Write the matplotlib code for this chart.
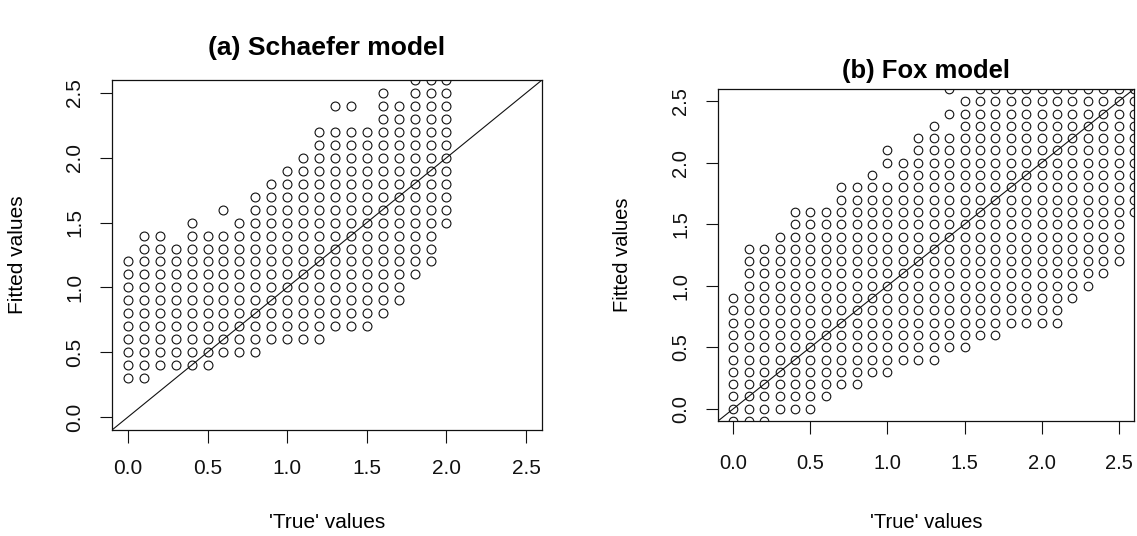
import numpy as np
import matplotlib
matplotlib.use("Agg")
import matplotlib.pyplot as plt

plt.rcParams['font.family'] = ['Liberation Sans', 'DejaVu Sans']

# (a) Schaefer model: each 'true' value has a column of fitted values (step 0.1)
true_a = [0.0, 0.1, 0.2, 0.3, 0.4, 0.5, 0.6, 0.7, 0.8, 0.9, 1.0,
          1.1, 1.2, 1.3, 1.4, 1.5, 1.6, 1.7, 1.8, 1.9, 2.0]
fit_low_a = [0.3, 0.3, 0.4, 0.4, 0.4, 0.4, 0.5, 0.5, 0.5, 0.6, 0.6,
             0.6, 0.6, 0.7, 0.7, 0.7, 0.8, 0.9, 1.1, 1.2, 1.5]
fit_high_a = [1.2, 1.4, 1.4, 1.3, 1.5, 1.4, 1.4, 1.5, 1.7, 1.8, 1.9,
              2.0, 2.2, 2.2, 2.2, 2.2, 2.5, 2.4, 2.6, 2.6, 2.6]
extra_x_a = [0.6, 1.3, 1.4]
extra_y_a = [1.6, 2.4, 2.4]

# (b) Fox model
true_b = [0.0, 0.1, 0.2, 0.3, 0.4, 0.5, 0.6, 0.7, 0.8, 0.9, 1.0, 1.1, 1.2, 1.3,
          1.4, 1.5, 1.6, 1.7, 1.8, 1.9, 2.0, 2.1, 2.2, 2.3, 2.4, 2.5, 2.6]
fit_low_b = [-0.1, -0.1, -0.1, 0.0, 0.0, 0.0, 0.1, 0.2, 0.2, 0.3, 0.3, 0.4, 0.4, 0.4,
             0.5, 0.5, 0.6, 0.6, 0.7, 0.7, 0.7, 0.7, 0.9, 1.0, 1.1, 1.2, 1.6]
fit_high_b = [0.9, 1.3, 1.3, 1.4, 1.6, 1.6, 1.6, 1.8, 1.8, 1.9, 2.1, 2.0, 2.2, 2.3,
              2.2, 2.5, 2.6, 2.6, 2.6, 2.6, 2.6, 2.6, 2.6, 2.6, 2.6, 2.6, 2.6]
gap_x_b = [1.0]
gap_y_b = [1.9]
extra_x_b = [1.4, 1.4]
extra_y_b = [2.4, 2.6]

ticks = [0.0, 0.5, 1.0, 1.5, 2.0, 2.5]


def grid_points(xs, lows, highs, extra_x=(), extra_y=(), gap_x=(), gap_y=()):
    px, py = [], []
    for x, lo, hi in zip(xs, lows, highs):
        n = int(round((hi - lo) * 10)) + 1
        for k in range(n):
            y = round(lo + 0.1 * k, 1)
            if any(abs(x - gx) < 1e-6 and abs(y - gy) < 1e-6
                   for gx, gy in zip(gap_x, gap_y)):
                continue
            px.append(x)
            py.append(y)
    px += list(extra_x)
    py += list(extra_y)
    return px, py


def draw_panel(ax, px, py, title, title_y, xlab_y, ylab_x, fs, ms, xpad):
    ax.plot(px, py, 'o', mfc='none', mec='#111111', ms=ms, mew=0.8)
    ax.axline((0, 0), slope=1, color='#111111', lw=0.8)
    ax.set_xlim(-0.1, 2.6)
    ax.set_ylim(-0.1, 2.6)
    ax.set_xticks(ticks)
    ax.set_yticks(ticks)
    ax.set_xticklabels([f"{t:.1f}" for t in ticks])
    ax.set_yticklabels([f"{t:.1f}" for t in ticks], rotation=90, va='center')
    ax.tick_params(length=9, width=0.8, labelsize=fs, colors='#111111')
    ax.tick_params(axis='x', pad=xpad)
    ax.tick_params(axis='y', pad=11)
    for s in ax.spines.values():
        s.set_linewidth(0.9)
        s.set_color('#111111')
    ax.set_title(title, fontsize=fs * 1.27, fontweight='bold', y=title_y,
                 va='center', pad=0)
    ax.set_xlabel("'True' values", fontsize=fs)
    ax.set_ylabel("Fitted values", fontsize=fs)
    ax.xaxis.set_label_coords(0.5, xlab_y)
    ax.xaxis.label.set_va('center')
    ax.yaxis.set_label_coords(ylab_x, 0.5)
    ax.yaxis.label.set_va('center')


fig = plt.figure(figsize=(11.37, 5.36), dpi=100)
W, H = 1137, 536

ax_a = fig.add_axes([112 / W, 1 - 430 / H, 430 / W, 350 / H])
ax_b = fig.add_axes([718 / W, 1 - 421 / H, 416 / W, 332 / H])

xa, ya = grid_points(true_a, fit_low_a, fit_high_a, extra_x_a, extra_y_a)
xb, yb = grid_points(true_b, fit_low_b, fit_high_b, extra_x_b, extra_y_b,
                     gap_x_b, gap_y_b)

draw_panel(ax_a, xa, ya, "(a) Schaefer model", 1 + 32 / 350,
           -93 / 350, -94 / 430, 15, 6.4, 12)
draw_panel(ax_b, xb, yb, "(b) Fox model", 1 + 18 / 332,
           -102 / 332, -96 / 416, 14.5, 6.2, 15)

fig.savefig("out.png", dpi=100)
